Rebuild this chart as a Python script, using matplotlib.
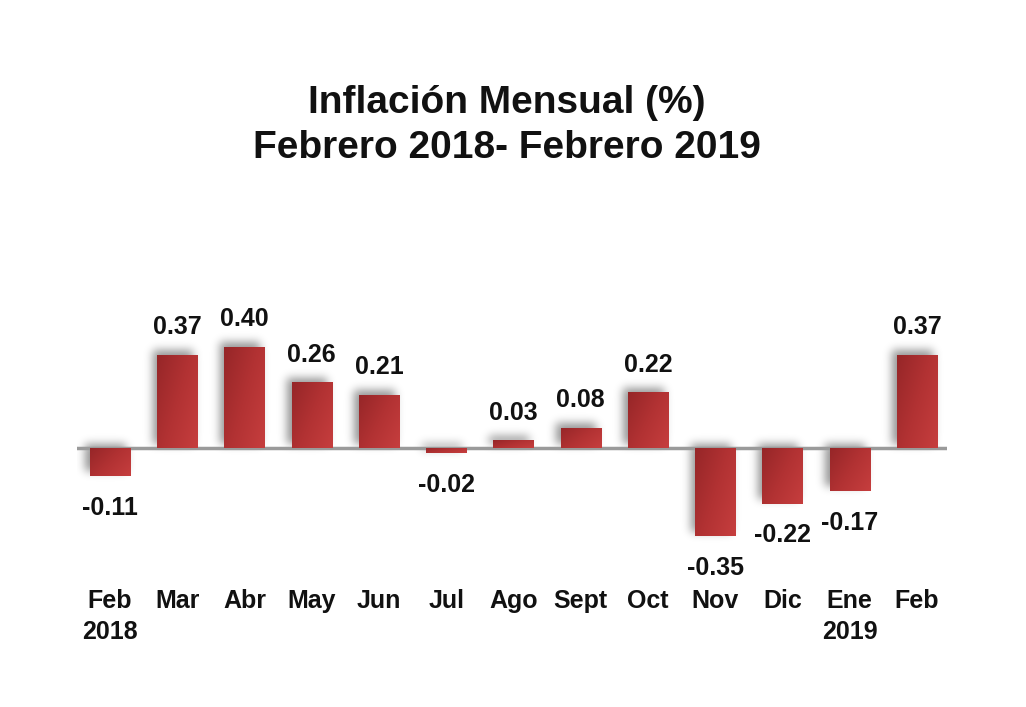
import numpy as np
import matplotlib
matplotlib.use("Agg")
import matplotlib.pyplot as plt
from matplotlib.patches import Rectangle
from matplotlib.colors import LinearSegmentedColormap
import matplotlib.transforms as mtransforms

# ---- data ----
months = ["Feb", "Mar", "Abr", "May", "Jun", "Jul", "Ago", "Sept", "Oct", "Nov", "Dic", "Ene", "Feb"]
years = ["2018", "", "", "", "", "", "", "", "", "", "", "2019", ""]
values = [-0.11, 0.37, 0.40, 0.26, 0.21, -0.02, 0.03, 0.08, 0.22, -0.35, -0.22, -0.17, 0.37]
value_labels = ["-0.11", "0.37", "0.40", "0.26", "0.21", "-0.02", "0.03", "0.08", "0.22", "-0.35", "-0.22", "-0.17", "0.37"]
title_lines = ["Inflación Mensual (%)", "Febrero 2018- Febrero 2019"]

plt.rcParams['font.family'] = ['Liberation Sans', 'DejaVu Sans']

W, H = 1026, 707
fig = plt.figure(figsize=(W / 100, H / 100), dpi=100)
fig.patch.set_facecolor("white")

ax_left_px, ax_right_px = 77, 947
ax_top_px, ax_bot_px = 300, 580
ax = fig.add_axes([ax_left_px / W, 1 - ax_bot_px / H,
                   (ax_right_px - ax_left_px) / W, (ax_bot_px - ax_top_px) / H])
x = np.arange(len(values))
px_per_x = 67.25
px_per_y = 252.5
x0_px = 110
zero_px = 448
xlim = ((ax_left_px - x0_px) / px_per_x, (ax_right_px - x0_px) / px_per_x)
ylim = (-(ax_bot_px - zero_px) / px_per_y, (zero_px - ax_top_px) / px_per_y)
ax.axis("off")

bw = 0.6

# ---- soft shadow image (blurred bar mask, offset up-left) ----
nx, ny = ax_right_px - ax_left_px, ax_bot_px - ax_top_px
mask = np.zeros((ny, nx))
off_x, off_y = -4, -4  # pixels
for xi, v in zip(x, values):
    l = (xi - bw / 2 - xlim[0]) * px_per_x + off_x
    r = (xi + bw / 2 - xlim[0]) * px_per_x + off_x
    top = (ylim[1] - max(0, v)) * px_per_y + off_y
    bot = (ylim[1] - min(0, v)) * px_per_y + off_y
    mask[int(max(top, 0)):int(min(bot, ny)), int(max(l, 0)):int(min(r, nx))] = 1.0
sigma = 4.5
k = np.arange(-15, 16)
kern = np.exp(-0.5 * (k / sigma) ** 2)
kern /= kern.sum()
blur = np.apply_along_axis(lambda m: np.convolve(m, kern, mode="same"), 1, mask)
blur = np.apply_along_axis(lambda m: np.convolve(m, kern, mode="same"), 0, blur)
shadow = np.zeros((ny, nx, 4))
shadow[..., 3] = 0.42 * blur
ax.imshow(shadow, extent=(xlim[0], xlim[1], ylim[0], ylim[1]), origin="upper",
          aspect="auto", zorder=1, interpolation="bilinear")

# ---- gradient bars ----
cmap = LinearSegmentedColormap.from_list("bar", ["#962628", "#b23233", "#c63e3e"])
GX, GY = np.meshgrid(np.linspace(0, 1, 64), np.linspace(0, 1, 64))
for xi, v in zip(x, values):
    bottom = min(0, v)
    height = abs(v)
    rect = Rectangle((xi - bw / 2, bottom), bw, height, facecolor="none",
                     edgecolor="none", zorder=3)
    ax.add_patch(rect)
    Z = 0.6 * GX + 0.4 * GY
    im = ax.imshow(Z, cmap=cmap, extent=(xi - bw / 2, xi + bw / 2, bottom, bottom + height),
                   origin="upper", aspect="auto", zorder=3, vmin=0, vmax=1)
    im.set_clip_path(rect)

ax.set_xlim(*xlim)
ax.set_ylim(*ylim)

# zero line
ax.axhline(0, color="#9a9a9a", lw=2.5, zorder=2)

# value labels
for xi, v, lab in zip(x, values, value_labels):
    off = 20 if v >= 0 else -23
    ax.annotate(lab, (xi, v), xytext=(0, off), textcoords="offset points",
                ha="center", va="center", fontsize=18, fontweight="bold",
                color="#111111", zorder=5)

# category labels
trans = mtransforms.blended_transform_factory(ax.transData, fig.transFigure)
for xi, m, yr in zip(x, months, years):
    ax.text(xi, 1 - 601 / H, m, transform=trans, ha="center", va="center",
            fontsize=18, fontweight="bold", color="#111111", clip_on=False)
    if yr:
        ax.text(xi, 1 - 632 / H, yr, transform=trans, ha="center", va="center",
                fontsize=18, fontweight="bold", color="#111111", clip_on=False)

# title
fig.text(507 / W, 1 - 103 / H, title_lines[0], ha="center", va="center",
         fontsize=28, fontweight="bold", color="#111111")
fig.text(507 / W, 1 - 148 / H, title_lines[1], ha="center", va="center",
         fontsize=28, fontweight="bold", color="#111111")

fig.savefig("out.png", dpi=100, facecolor="white")
